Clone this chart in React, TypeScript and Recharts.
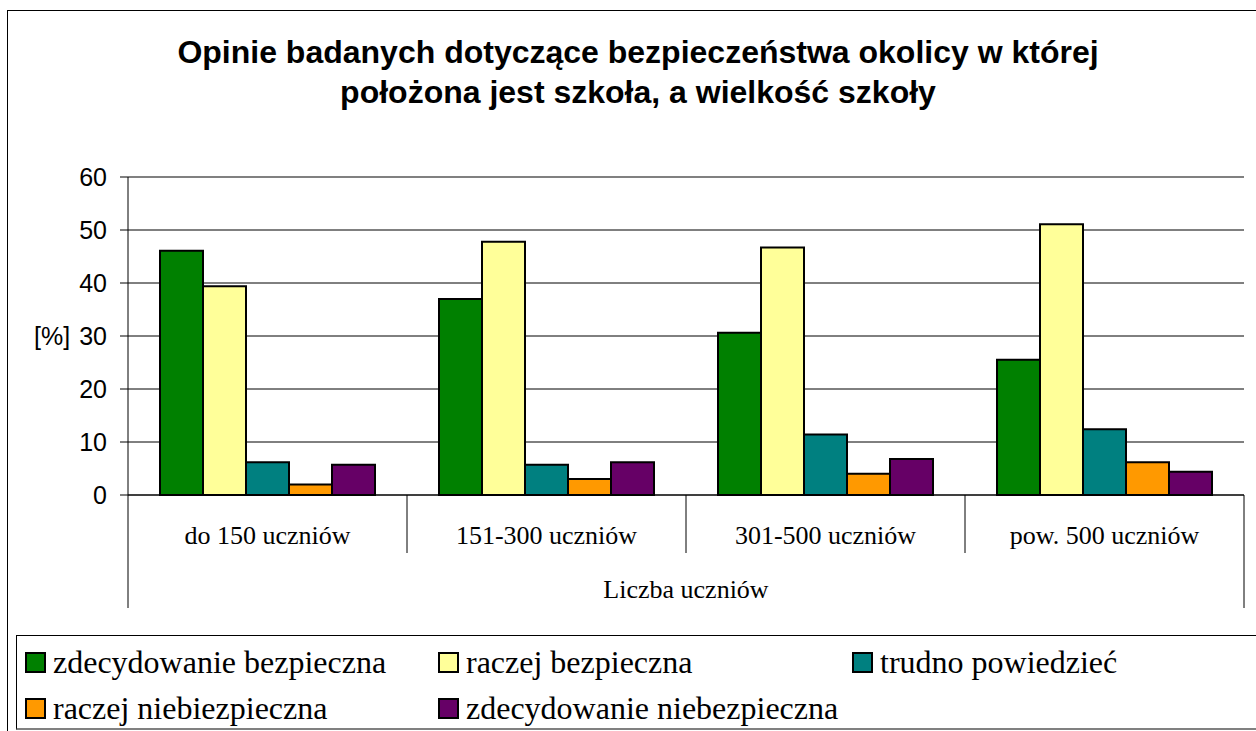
import React from "react";
import { BarChart, Bar, XAxis, YAxis, CartesianGrid, Legend, ReferenceLine } from "recharts";

// kategorie i wartości [%]
const categories = ["do 150 uczniów", "151-300 uczniów", "301-500 uczniów", "pow. 500 uczniów"];
const zdecydowanieBezpieczna = [46.1, 37.0, 30.6, 25.5];
const raczejBezpieczna = [39.4, 47.8, 46.7, 51.1];
const trudnoPowiedziec = [6.2, 5.7, 11.4, 12.4];
const raczejNiebezpieczna = [2.0, 3.0, 4.0, 6.2];
const zdecydowanieNiebezpieczna = [5.7, 6.2, 6.8, 4.4];
const yTicks = [0, 10, 20, 30, 40, 50, 60];

const seriesList = [
  { key: "zb", name: "zdecydowanie bezpieczna", color: "#008000", values: zdecydowanieBezpieczna },
  { key: "rb", name: "raczej bezpieczna", color: "#FFFF99", values: raczejBezpieczna },
  { key: "tp", name: "trudno powiedzieć", color: "#008080", values: trudnoPowiedziec },
  { key: "rn", name: "raczej niebiezpieczna", color: "#FF9900", values: raczejNiebezpieczna },
  { key: "zn", name: "zdecydowanie niebezpieczna", color: "#660066", values: zdecydowanieNiebezpieczna },
];

const data = categories.map((category, i) => {
  const row: Record<string, string | number> = { category };
  seriesList.forEach((s) => (row[s.key] = s.values[i]));
  return row;
});

const W = 1256;
const H = 731;
const MARGIN = { top: 177, right: 12, bottom: 124, left: 0 };
const Y_W = 128;
const X_H = 112;
const HALF_BAND = (W - MARGIN.left - MARGIN.right - Y_W) / categories.length / 2;

const SANS = "'Liberation Sans', Arial, sans-serif";
const SERIF = "'Liberation Serif', 'Times New Roman', serif";

const CategoryTick = (props: any) => {
  const { x, y, payload, index } = props;
  const last = index === categories.length - 1;
  return (
    <g>
      <line x1={x - HALF_BAND} x2={x - HALF_BAND} y1={y} y2={y + (index === 0 ? 113 : 58)} stroke="#000" />
      {last && <line x1={x + HALF_BAND} x2={x + HALF_BAND} y1={y} y2={y + 113} stroke="#000" />}
      <text x={x} y={y + 49} textAnchor="middle" fontFamily={SERIF} fontSize={26} fill="#000">
        {payload.value}
      </text>
    </g>
  );
};

const LegendBox = () => (
  <div
    style={{
      width: W - 16,
      height: 95,
      boxSizing: "border-box",
      borderTop: "1px solid #000",
      borderLeft: "1px solid #000",
      borderBottom: "2px solid #808080",
      display: "grid",
      gridTemplateColumns: "413px 414px auto",
      gridAutoRows: "46px",
      paddingLeft: 8,
      paddingTop: 3,
      fontFamily: SERIF,
      fontSize: 32,
      color: "#000",
      textAlign: "left",
    }}
  >
    {seriesList.map((s) => (
      <div key={s.key} style={{ display: "flex", alignItems: "center", whiteSpace: "nowrap" }}>
        <span
          style={{
            width: 21,
            height: 21,
            boxSizing: "border-box",
            border: "2px solid #000",
            background: s.color,
            marginRight: 7,
            flex: "none",
          }}
        />
        <span>{s.name}</span>
      </div>
    ))}
  </div>
);

export default function App() {
  return (
    <div style={{ position: "absolute", left: 0, top: 0, width: W, height: H, overflow: "hidden", background: "#fff" }}>
      <div
        style={{
          position: "absolute",
          left: 7,
          top: 10,
          width: W + 20,
          height: H + 20,
          border: "1px solid #000",
          pointerEvents: "none",
        }}
      />
      <div
        style={{
          position: "absolute",
          left: 10,
          top: 32,
          width: W,
          textAlign: "center",
          fontFamily: SANS,
          fontWeight: "bold",
          fontSize: 32,
          lineHeight: "40px",
          color: "#000",
        }}
      >
        Opinie badanych dotyczące bezpieczeństwa okolicy w której
        <br />
        położona jest szkoła, a wielkość szkoły
      </div>
      <BarChart width={W} height={H} data={data} margin={MARGIN} barCategoryGap={32} barGap={0}>
        <CartesianGrid horizontal vertical={false} stroke="#000" />
        <XAxis
          dataKey="category"
          height={X_H}
          tickLine={false}
          tickSize={0}
          tickMargin={0}
          axisLine={{ stroke: "#000" }}
          tick={<CategoryTick />}
          interval={0}
          label={{
            value: "Liczba uczniów",
            position: "insideBottom",
            offset: 9,
            style: { fontFamily: SERIF, fontSize: 26, fill: "#000" },
          }}
        />
        <YAxis
          width={Y_W}
          domain={[0, 60]}
          ticks={yTicks}
          interval={0}
          tickSize={8}
          tickMargin={13}
          tickLine={{ stroke: "#000" }}
          axisLine={{ stroke: "#000" }}
          tick={{ fontFamily: SANS, fontSize: 25, fill: "#000" }}
          label={{
            value: "[%]",
            position: "insideLeft",
            offset: 34,
            style: { fontFamily: SANS, fontSize: 25, fill: "#000" },
          }}
        />
        <YAxis
          yAxisId="right"
          orientation="right"
          width={0}
          domain={[0, 60]}
          tick={false}
          tickLine={false}
          axisLine={{ stroke: "#808080", strokeWidth: 2 }}
        />
        <ReferenceLine y={60} stroke="#808080" strokeWidth={2} />
        <Legend
          layout="horizontal"
          verticalAlign="middle"
          align="center"
          content={<LegendBox />}
          wrapperStyle={{ left: 16, top: 635, width: W - 16, height: 95 }}
        />
        {seriesList.map((s) => (
          <Bar
            key={s.key}
            dataKey={s.key}
            name={s.name}
            fill={s.color}
            stroke="#000"
            strokeWidth={2}
            isAnimationActive={false}
          />
        ))}
      </BarChart>
    </div>
  );
}
